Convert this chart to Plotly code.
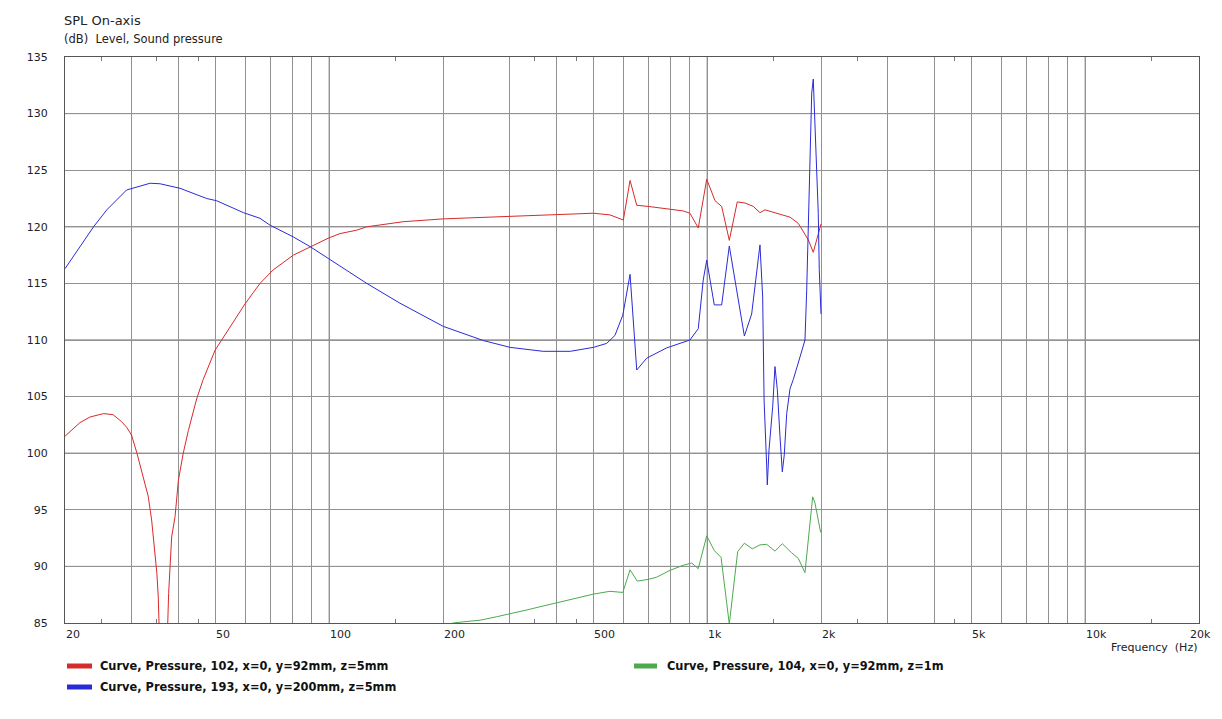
import math
import plotly.graph_objects as go

# ---------------- data ----------------
red_f = [20.0, 21.9, 23.3, 25.3, 26.8, 28.2, 29.1, 30.0, 31.0, 32.2, 33.2, 33.9, 34.6, 35.0, 35.3,
         36.4, 37.6, 37.9, 38.3, 39.1, 39.9, 41.1, 42.4, 44.6, 46.4, 49.9, 54.7, 59.9, 65.6, 71.1,
         80.4, 89.9, 99.5, 106.8, 118.2, 125.7, 157, 200, 300, 400, 500, 553, 588, 600, 625, 651,
         698, 797, 864, 900, 947, 997, 1049, 1092, 1144, 1201, 1259, 1324, 1379, 1422, 1558, 1656,
         1742, 1851, 1908, 2000]
red_db = [101.5, 102.7, 103.2, 103.5, 103.4, 102.8, 102.3, 101.6, 100.0, 97.9, 96.2, 94.1, 90.9, 89.4, 87.3,
          72.0, 87.6, 89.7, 92.6, 94.4, 97.6, 100.0, 102.0, 104.8, 106.5, 109.1, 111.2, 113.2, 115.0, 116.2,
          117.5, 118.3, 119.0, 119.4, 119.7, 120.0, 120.45, 120.7, 120.95, 121.1, 121.2, 121.05, 120.75, 120.6, 124.1, 121.9,
          121.8, 121.55, 121.4, 121.2, 119.9, 124.2, 122.3, 121.8, 118.8, 122.2, 122.1, 121.8, 121.25, 121.5, 121.1, 120.85,
          120.3, 118.85, 117.75, 120.25]

blue_f = [20.0, 23.8, 25.8, 29.1, 33.6, 35.7, 40.3, 47.4, 50.4, 59.3, 65.6, 69.7, 80.4, 89, 99.5,
          120.6, 125.7, 153.9, 200.4, 255.8, 301, 368, 434, 500, 542, 570, 598, 625, 651, 692, 781,
          900, 947, 976, 997, 1044, 1092, 1144, 1254, 1311, 1379, 1402, 1414, 1437, 1442, 1457, 1490,
          1511, 1533, 1558, 1580, 1599, 1623, 1656, 1689, 1760, 1814, 1833, 1851, 1870, 1890, 1908,
          1928, 1948, 1967, 1979, 2000]
blue_db = [116.3, 120.0, 121.5, 123.25, 123.85, 123.8, 123.4, 122.5, 122.3, 121.25, 120.75, 120.15, 119.1, 118.25, 117.2,
           115.4, 115.0, 113.25, 111.2, 109.95, 109.35, 109.0, 109.0, 109.35, 109.7, 110.4, 112.2, 115.8, 107.35, 108.4, 109.3,
           110.0, 111.0, 115.3, 117.05, 113.1, 113.1, 118.3, 110.35, 112.3, 118.4, 113.8, 104.7, 98.8, 97.2, 100.3, 104.1,
           107.65, 105.6, 101.45, 98.35, 99.85, 103.5, 105.7, 106.5, 108.5, 110.0, 114.4, 120.0, 125.9, 131.8, 133.05,
           129.1, 124.1, 121.2, 116.2, 112.3]

green_f = [200, 213, 226, 251, 277, 301, 333, 368, 400, 434, 500, 553, 598, 625, 653, 698, 735, 797,
           864, 910, 947, 997, 1044, 1088, 1144, 1184, 1204, 1254, 1316, 1379, 1437, 1511, 1580, 1673,
           1742, 1814, 1862, 1901, 1928, 1996]
green_db = [84.8, 85.0, 85.1, 85.25, 85.55, 85.8, 86.15, 86.5, 86.8, 87.1, 87.55, 87.8, 87.7, 89.7, 88.7, 88.85, 89.05, 89.65,
            90.1, 90.3, 89.8, 92.7, 91.4, 90.8, 84.9, 89.25, 91.3, 92.05, 91.55, 91.9, 91.95, 91.35, 92.0, 91.2,
            90.7, 89.45, 93.2, 96.15, 95.6, 93.0]

series_names = ["Curve, Pressure, 102, x=0, y=92mm, z=5mm",
                "Curve, Pressure, 193, x=0, y=200mm, z=5mm",
                "Curve, Pressure, 104, x=0, y=92mm, z=1m"]

x_grid = [20, 30, 40, 50, 60, 70, 80, 90, 100, 200, 300, 400, 500, 600, 700, 800, 900,
          1000, 2000, 3000, 4000, 5000, 6000, 7000, 8000, 9000, 10000, 20000]
x_major_grid = [100, 1000, 10000]
x_minor_ticks = [25, 35, 45, 150, 350, 450, 1500, 2500, 4500, 15000]
x_label_vals = [20, 50, 100, 200, 500, 1000, 2000, 5000, 10000]
x_label_text = ["20", "50", "100", "200", "500", "1k", "2k", "5k", "10k"]
x_last_label = "20k"
y_ticks = [85, 90, 95, 100, 105, 110, 115, 120, 125, 130, 135]
y_major_grid = [90, 100, 110, 120, 130]

# ---------------- figure ----------------
FONT = "DejaVu Sans"
red_c, blue_c, green_c = "#d82a2a", "#2a2ad8", "#4caa4c"

fig = go.Figure()
fig.add_trace(go.Scatter(x=red_f, y=red_db, mode="lines", line=dict(color=red_c, width=1), name=series_names[0]))
fig.add_trace(go.Scatter(x=blue_f, y=blue_db, mode="lines", line=dict(color=blue_c, width=1), name=series_names[1]))
fig.add_trace(go.Scatter(x=green_f, y=green_db, mode="lines", line=dict(color=green_c, width=1), name=series_names[2]))

shapes = []
for v in x_major_grid:
    shapes.append(dict(type="line", xref="x", yref="paper", x0=v, x1=v, y0=0, y1=1,
                       line=dict(color="#666666", width=1), layer="below"))
for v in y_major_grid:
    shapes.append(dict(type="line", xref="paper", yref="y", x0=0, x1=1, y0=v, y1=v,
                       line=dict(color="#666666", width=1), layer="below"))

# page coordinates (the page has an 8px body margin)
PL, PT, PW, PH = 65, 57, 1134.0, 566.0
def px_x(px):
    return (px - PL) / PW
def px_y(py):
    return -(py - (PT + PH)) / PH

legend_items = [(series_names[0], red_c, 67, 92, 100, 666),
                (series_names[1], blue_c, 67, 92, 100, 687),
                (series_names[2], green_c, 634, 657, 667, 666)]
annotations = []
for name, col, sx0, sx1, tx, ty in legend_items:
    shapes.append(dict(type="line", xref="paper", yref="paper", x0=px_x(sx0), x1=px_x(sx1),
                       y0=px_y(ty), y1=px_y(ty), line=dict(color=col, width=5)))
    annotations.append(dict(text="<b>" + name + "</b>", xref="paper", yref="paper", x=px_x(tx - 2), y=px_y(ty),
                            xanchor="left", yanchor="middle", showarrow=False,
                            font=dict(family=FONT, size=11.4, color="#111111")))

for v, t in zip(x_label_vals, x_label_text):
    annotations.append(dict(text=t, xref="x", yref="paper", x=math.log10(v), y=0, yshift=-3,
                            xanchor="left", yanchor="top", showarrow=False, xshift=-1,
                            font=dict(family=FONT, size=11, color="#222222")))
# last tick label, kept inside the visible page width
annotations.append(dict(text=x_last_label, xref="paper", yref="paper", x=1, y=0, yshift=-3,
                        xanchor="right", yanchor="top", showarrow=False, xshift=14,
                        font=dict(family=FONT, size=11, color="#222222")))

annotations.append(dict(text="Frequency\u00a0\u00a0(Hz)", xref="paper", yref="paper", x=1, y=0, yshift=-24,
                        xanchor="right", yanchor="middle", showarrow=False,
                        font=dict(family=FONT, size=11, color="#222222")))
annotations.append(dict(text="SPL On-axis", xref="paper", yref="paper", x=0, y=1, yshift=37, xshift=-3,
                        xanchor="left", yanchor="middle", showarrow=False,
                        font=dict(family=FONT, size=13, color="#222222")))
annotations.append(dict(text="(dB)\u00a0\u00a0Level, Sound pressure", xref="paper", yref="paper", x=0, y=1,
                        yshift=18, xshift=-3, xanchor="left", yanchor="middle", showarrow=False,
                        font=dict(family=FONT, size=11.5, color="#222222")))

fig.update_layout(
    width=1214, height=703,
    margin=dict(l=PL - 8, r=23, t=PT - 8, b=88),
    paper_bgcolor="white", plot_bgcolor="white",
    showlegend=False,
    font=dict(family=FONT, size=11, color="#222222"),
    shapes=shapes, annotations=annotations,
)
fig.update_xaxes(type="log", range=[math.log10(20), math.log10(20000)],
                 tickmode="array", tickvals=x_grid, showticklabels=False, ticks="",
                 showgrid=True, gridcolor="#929292", gridwidth=1, zeroline=False,
                 showline=True, linecolor="#555555", linewidth=1, mirror="ticks",
                 minor=dict(tickmode="array", tickvals=x_minor_ticks, ticks="inside", ticklen=4,
                            tickcolor="#777777", tickwidth=1, showgrid=False))
fig.update_yaxes(range=[85, 135], tickmode="array", tickvals=y_ticks, ticks="",
                 showgrid=True, gridcolor="#929292", gridwidth=1, zeroline=False,
                 showline=True, linecolor="#555555", linewidth=1, mirror=True,
                 ticklabelstandoff=14, tickfont=dict(family=FONT, size=11, color="#222222"))

fig.write_html("out.html")
